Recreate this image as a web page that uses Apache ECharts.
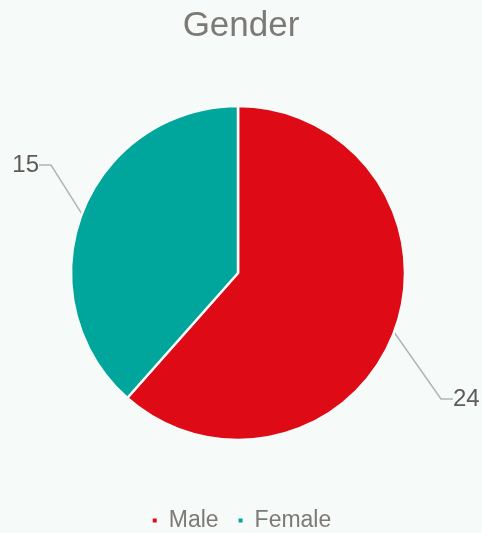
<!DOCTYPE html>
<html>
<head>
<meta charset="utf-8">
<script src="https://cdn.jsdelivr.net/npm/echarts@6/dist/echarts.min.js"></script>
<style>
  html, body { margin: 0; padding: 0; background: #f6faf9; }
  #chart { width: 482px; height: 533px; }
</style>
</head>
<body>
<div id="chart"></div>
<script>
// gender split
const categories = ['Male', 'Female']
const values = [24, 15]
const colors = ['#de0b17', '#00a59b']

const chart = echarts.init(document.getElementById('chart'))

let pieData = categories.map((name, i) => ({
  name: name,
  value: values[i],
  itemStyle: { color: colors[i] }
}))

let option = {
  backgroundColor: '#f6faf9',
  title: {
    text: 'Gender',
    left: 'center',
    top: 4,
    textStyle: {
      fontFamily: 'Liberation Sans',
      fontSize: 35,
      fontWeight: 'normal',
      color: '#7d7975'
    }
  },
  legend: {
    bottom: -4,
    left: 'center',
    itemWidth: 6,
    itemHeight: 6,
    itemGap: 18,
    icon: 'rect',
    textStyle: {
      fontFamily: 'Liberation Sans',
      fontSize: 23,
      color: '#7d7975',
      padding: [0, 0, 0, 6]
    },
    data: categories
  },
  series: [{
    type: 'pie',
    center: [238, 273],
    radius: 167,
    startAngle: 90,
    clockwise: true,
    animation: false,
    itemStyle: {
      borderColor: '#f6faf9',
      borderWidth: 2.5
    },
    label: {
      show: true,
      formatter: '{c}',
      fontFamily: 'Liberation Sans',
      fontSize: 24,
      color: '#5f5b58'
    },
    labelLine: {
      show: true,
      length: 30,
      length2: 12,
      lineStyle: { color: '#b4b4b4', width: 1.5 }
    },
    labelLayout (params) {
      // Excel-style leader placement
      if (params.dataIndex === 1) {
        return { x: 39, y: 165, align: 'right', verticalAlign: 'middle' }
      }
      return { x: 453, y: 399, align: 'left', verticalAlign: 'middle' }
    },
    data: pieData
  }]
}

chart.setOption(option)
</script>
</body>
</html>
